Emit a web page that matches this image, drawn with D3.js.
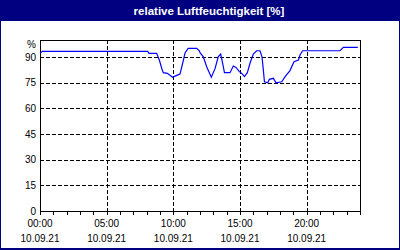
<!DOCTYPE html>
<html>
<head>
<meta charset="utf-8">
<script src="https://cdn.jsdelivr.net/npm/d3@7"></script>
<style>
  body { margin: 0; background: #fff; }
  svg { display: block; }
</style>
</head>
<body>
<script>
var title = "relative Luftfeuchtigkeit [%]";
var unitLabel = "%";
var dateLabel = "10.09.21";

// time of day (HH:MM) and relative humidity in %
var times = ["00:00", "00:10", "08:05", "08:10", "08:45", "08:57", "09:09", "09:15", "09:33", "09:57",
  "10:15", "10:30", "10:42", "10:53", "11:07", "11:45", "11:57", "12:00", "12:15", "12:30",
  "12:51", "13:08", "13:22", "13:33", "13:42", "13:50", "14:15", "14:30", "14:42", "14:57",
  "15:08", "15:20", "15:33", "15:45", "16:00", "16:15", "16:30", "16:39", "16:45", "16:50",
  "17:05", "17:12", "17:30", "17:42", "18:08", "18:23", "18:45", "19:03", "19:23", "19:30",
  "19:42", "22:30", "22:45", "23:50"];
var humidity = [92.2, 93.4, 93.4, 92.2, 92.2, 88.3, 82.9, 80.9, 80.5, 78.2,
  79.3, 80.1, 86.4, 92.6, 95.1, 95.1, 93.7, 92.6, 90.2, 84.4,
  78.2, 83.4, 90.2, 91.8, 86.4, 80.9, 80.9, 84.8, 84.0, 81.5,
  80.5, 78.6, 80.9, 86.4, 91.8, 93.7, 93.7, 90.2, 82.5, 75.6,
  75.0, 77.0, 77.6, 75.0, 75.6, 78.6, 82.1, 87.3, 88.3, 91.2,
  93.7, 93.7, 95.7, 95.7];
var yTicks = [0, 15, 30, 45, 60, 75, 90];
var xTickHours = [0, 5, 10, 15, 20];

var width = 400, height = 250;
var plot = { left: 40, top: 40, right: 360, bottom: 211 };
var font = "'Liberation Sans', Arial, sans-serif";

var parse = d3.timeParse("%d.%m.%y %H:%M");
var day0 = parse(dateLabel + " 00:00");
var day1 = d3.timeDay.offset(day0, 1);
var data = times.map(function(t, i) {
  return { t: parse(dateLabel + " " + t), v: humidity[i] };
});

var x = d3.scaleTime().domain([day0, day1]).range([plot.left, plot.right]);
var y = d3.scaleLinear().domain([0, 100]).range([plot.bottom, plot.top]);

var svg = d3.select("body").append("svg")
    .attr("width", width)
    .attr("height", height);

// frame and title bar
svg.append("rect")
    .attr("x", 0).attr("y", 0).attr("width", width).attr("height", height)
    .attr("fill", "#000080");
svg.append("rect")
    .attr("x", 1).attr("y", 21).attr("width", width - 2).attr("height", height - 23)
    .attr("fill", "#ffffff");
svg.append("text")
    .attr("x", 209).attr("y", 15)
    .attr("text-anchor", "middle")
    .attr("fill", "#ffffff")
    .style("font-family", font)
    .style("font-size", "11.5px")
    .style("font-weight", "bold")
    .text(title);

// grid
var grid = svg.append("g")
    .attr("stroke", "#000")
    .attr("stroke-dasharray", "4,2")
    .attr("shape-rendering", "crispEdges");
grid.selectAll("line.h")
    .data(yTicks.filter(function(d) { return d > 0; }))
  .enter().append("line")
    .attr("x1", plot.left).attr("x2", plot.right)
    .attr("y1", function(d) { return Math.round(y(d)) + 0.5; })
    .attr("y2", function(d) { return Math.round(y(d)) + 0.5; });
grid.selectAll("line.v")
    .data(xTickHours.filter(function(d) { return d > 0; }))
  .enter().append("line")
    .attr("y1", plot.top).attr("y2", plot.bottom)
    .attr("x1", function(d) { return Math.round(x(d3.timeHour.offset(day0, d))) + 0.5; })
    .attr("x2", function(d) { return Math.round(x(d3.timeHour.offset(day0, d))) + 0.5; });

// plot border and axes
svg.append("rect")
    .attr("x", plot.left + 0.5).attr("y", plot.top + 0.5)
    .attr("width", plot.right - plot.left).attr("height", plot.bottom - plot.top)
    .attr("fill", "none").attr("stroke", "#000")
    .attr("shape-rendering", "crispEdges");

var xAxis = d3.axisBottom(x)
    .ticks(d3.timeHour.every(1))
    .tickSize(3)
    .tickFormat("");
svg.append("g")
    .attr("transform", "translate(0," + (plot.bottom + 0.5) + ")")
    .call(xAxis)
    .call(function(g) {
      g.select(".domain").remove();
      g.selectAll("line").attr("shape-rendering", "crispEdges");
    });

// y labels
svg.append("g")
    .selectAll("text")
    .data(yTicks)
  .enter().append("text")
    .attr("x", 36)
    .attr("y", function(d) { return y(d); })
    .attr("dy", "0.35em")
    .attr("text-anchor", "end")
    .style("font-family", font)
    .style("font-size", "10px")
    .text(function(d) { return d; });
svg.append("text")
    .attr("x", 36).attr("y", 48)
    .attr("text-anchor", "end")
    .style("font-family", font)
    .style("font-size", "10px")
    .text(unitLabel);

// x labels
var xl = svg.append("g")
    .selectAll("g")
    .data(xTickHours)
  .enter().append("g")
    .attr("transform", function(d) {
      return "translate(" + x(d3.timeHour.offset(day0, d)) + ",0)";
    })
    .style("font-family", font)
    .style("font-size", "10px")
    .attr("text-anchor", "middle");
xl.append("text")
    .attr("y", 227)
    .text(function(d) { return d3.timeFormat("%H:%M")(d3.timeHour.offset(day0, d)); });
xl.append("text")
    .attr("y", 242)
    .text(dateLabel);

// humidity line
svg.append("path")
    .datum(data)
    .attr("fill", "none")
    .attr("stroke", "#0000ff")
    .attr("stroke-width", 1.2)
    .attr("d", d3.line()
      .x(function(d) { return x(d.t); })
      .y(function(d) { return y(d.v); }));
</script>
</body>
</html>
